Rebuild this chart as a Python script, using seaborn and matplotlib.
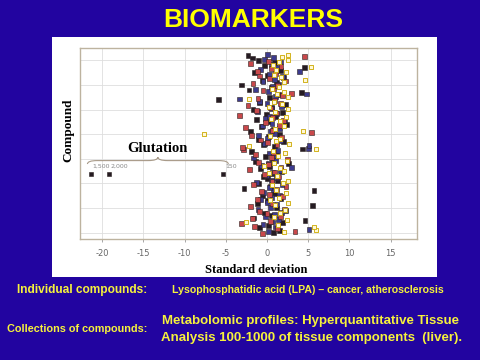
import numpy as np
import pandas as pd
import matplotlib
matplotlib.use("Agg")
import matplotlib.pyplot as plt
from matplotlib.patches import Rectangle, PathPatch
from matplotlib.path import Path
import seaborn as sns

nan = np.nan

# compound index (bottom -> top) and standard deviation of each replicate series
compounds = list(range(73))

dev_black = [0.8, 1.5, -0.9, 0.2, 1.9, 4.6, -1.6, 0.5, -0.3, 2.3,
             1.1, 5.5, -1.2, 0.0, 1.7, -0.6, 0.9, 5.7, -2.8, 0.4,
             -1.0, 1.3, 0.1, -0.5, 0.6, 1.8, -0.8, 0.3, 2.6, -1.4,
             0.7, -0.2, 1.2, -1.9, 4.3, 0.9, -0.4, 2.0, -1.1, 0.2,
             1.5, -2.0, 0.8, -0.7, 2.4, 0.4, -1.3, 1.0, -0.1, 1.9,
             -1.7, 0.6, 2.2, -0.9, -5.9, 0.3, 1.4, 4.2, -2.2, 0.5,
             -3.1, 1.1, -0.6, 2.0, 0.1, -1.5, 1.6, 4.5, -0.3, 0.9,
             -1.0, -1.8, -2.3]

dev_blue = [0.2, 5.1, 1.0, -0.5, 0.7, 1.4, -0.2, 0.9, 1.8, -1.1,
            0.4, 1.2, 0.0, -0.8, 0.6, 1.5, -0.4, 0.8, 0.3, 1.9,
            -1.3, 0.5, 1.1, -0.1, 0.7, 1.6, 3.0, -0.7, 0.2, 1.0,
            -1.6, 0.8, 0.3, 1.3, 5.0, 5.1, -0.3, 1.7, 0.1, -1.0,
            0.9, 0.4, 1.5, -0.6, 0.6, 2.1, -0.2, 0.3, 1.2, -1.2,
            0.5, 1.8, 0.0, -0.9, -3.3, 1.0, 4.8, 0.2, -1.4, 0.7,
            1.4, -0.5, 0.9, 1.9, 0.3, 3.9, -0.8, 1.1, 0.5, 1.6,
            -0.3, 0.8, 0.1]

dev_red = [-0.6, 3.4, 1.3, -1.5, -3.1, 0.4, -1.8, 1.6, 0.0, -0.9,
           2.1, -2.0, 0.7, nan, -1.2, 1.9, 0.3, -0.7, 1.1, 2.3,
           -1.6, 0.6, nan, 1.4, -0.3, 0.9, -2.1, 1.7, 0.2, -1.0,
           2.5, 0.5, -1.4, 0.8, -2.9, -3.0, 1.2, 0.1, -0.8, 1.8,
           -1.9, 5.4, 0.6, -2.6, 1.5, -0.2, 2.0, 0.7, -3.3, 1.1,
           -1.3, 0.4, -2.3, 1.6, 0.9, -1.1, 1.9, 3.0, -0.5, 0.8,
           1.3, -1.7, 2.2, 0.3, -0.9, 1.0, -1.2, 0.5, 1.7, -2.0,
           0.2, nan, 4.5]

dev_yellow = [2.0, 6.0, 5.7, 1.3, -2.5, 2.4, 0.9, nan, 1.6, 2.2,
              nan, 1.0, 2.6, 0.3, 1.5, nan, 2.3, 1.1, nan, 0.6,
              1.9, 2.5, nan, 1.2, 0.2, 2.1, 1.6, -0.4, 0.9, 2.4,
              nan, 1.3, 2.2, 0.7, 6.0, -2.2, 2.7, 1.1, 1.6, 0.4,
              -7.6, 4.4, 1.0, 2.0, nan, 1.6, 0.5, 2.3, nan, 1.0,
              2.6, 0.2, 1.8, 0.8, -2.2, 2.5, 1.2, 2.0, 0.6, 1.4,
              nan, 2.1, 4.6, 1.7, 0.9, 2.3, 1.1, 5.3, 0.7, 1.5,
              2.5, 1.8, 2.5]

# glutation: one compound far out on the left
glut_compound = 24
glut_dev = [-21.4, -19.2, -5.3]
glut_labels = ["1,500", "2,000", "150"]

x_ticks = [-20, -15, -10, -5, 0, 5, 10, 15]
y_grid = [0, 10, 20, 30, 40, 50, 60, 70]

bg = "#2204a0"
yellow = "#ffff00"
text_yellow = "#f6f23c"

# small vertical dodge per series so the replicates of one compound don't sit on one line
dodge = {"black": 0.0, "blue": 0.35, "red": -0.35, "yellow": 0.2}

df = pd.DataFrame({
    "compound": compounds * 3,
    "deviation": dev_black + dev_blue + dev_red,
    "series": ["black"] * 73 + ["blue"] * 73 + ["red"] * 73,
}).dropna()
df["ypos"] = df["compound"] + df["series"].map(dodge)
df_y = pd.DataFrame({"compound": compounds, "deviation": dev_yellow}).dropna()
df_y["ypos"] = df_y["compound"] + dodge["yellow"]
df_g = pd.DataFrame({"compound": [glut_compound] * 3, "deviation": glut_dev})

sns.set_style("white")
plt.rcParams["axes.unicode_minus"] = False

fig = plt.figure(figsize=(4.8, 3.6), dpi=100, facecolor=bg)
fig.add_artist(Rectangle((52 / 480, 1 - 277 / 360), 385 / 480, 240 / 360,
                         transform=fig.transFigure, facecolor="white",
                         edgecolor="none", zorder=-1))
ax = fig.add_axes([80 / 480, 1 - 239 / 360, 337 / 480, 191 / 360])
ax.set_facecolor("white")

palette = {"black": "#251b22", "blue": "#3d3b8e", "red": "#c9484b"}
sns.scatterplot(data=df, x="deviation", y="ypos", hue="series",
                palette=palette, marker="s", s=12, linewidth=0.4,
                edgecolor="#2a2020", legend=False, ax=ax, zorder=3)
sns.scatterplot(data=df_y, x="deviation", y="ypos", marker="s", s=10,
                color="#fff8d8", edgecolor="#cfae10", linewidth=0.65,
                legend=False, ax=ax, zorder=4)
sns.scatterplot(data=df_g, x="deviation", y="compound", marker="s", s=12,
                color="#251b22", edgecolor="#2a2020", linewidth=0.4,
                legend=False, ax=ax, zorder=3)

for xv, lab in zip(glut_dev, glut_labels):
    ax.text(xv + 0.2, glut_compound + 2.0, lab, fontsize=4.5, color="#888888",
            ha="left", va="bottom", family="DejaVu Sans")

# curly brace over the glutation values
x0 = min(glut_dev) - 0.4
x1 = max(glut_dev) + 0.6
xm = (x0 + x1) / 2
yb = glut_compound + 3.9
yl = glut_compound + 5.3
yc = glut_compound + 6.7
verts = [(x0, yb), (x0, yl), (x0 + 1.2, yl), (xm - 1.2, yl), (xm, yl), (xm, yc),
         (xm, yl), (xm + 1.2, yl), (x1 - 1.2, yl), (x1, yl), (x1, yb)]
codes = [Path.MOVETO, Path.CURVE3, Path.CURVE3, Path.LINETO, Path.CURVE3, Path.CURVE3,
         Path.CURVE3, Path.CURVE3, Path.LINETO, Path.CURVE3, Path.CURVE3]
ax.add_patch(PathPatch(Path(verts, codes), facecolor="none", edgecolor="#a89a88",
                       linewidth=0.8, zorder=2))
ax.text(xm, glut_compound + 10.3, "Glutation", ha="center", va="center",
        fontsize=10.5, fontweight="bold", family="Liberation Serif", color="black")

ax.set_xlim(-22.7, 18.2)
ax.set_ylim(-2.56, 75.05)
ax.set_xticks(x_ticks)
ax.set_xticklabels([str(t) for t in x_ticks])
ax.set_yticks(y_grid)
ax.set_yticklabels([])
ax.grid(True, color="#dedede", linewidth=0.6)
ax.set_axisbelow(True)
ax.tick_params(axis="x", colors="#999999", labelcolor="#666666", labelsize=6,
               length=2, width=0.6, pad=5, bottom=True)
ax.tick_params(axis="y", length=0)
for sp in ax.spines.values():
    sp.set_color("#bdb39f")
    sp.set_linewidth(1.0)
ax.set_xlabel("")
ax.set_ylabel("")

fig.text(68 / 480, 1 - 130 / 360, "Compound", rotation=90, ha="center", va="center",
         fontsize=9.5, fontweight="bold", family="Liberation Serif", color="black")
fig.text(256 / 480, 1 - 270 / 360, "Standard deviation", ha="center", va="center",
         fontsize=9, fontweight="bold", family="Liberation Serif", color="black")

fig.text(253 / 480, 1 - 20 / 360, "BIOMARKERS", ha="center", va="center",
         fontsize=19, fontweight="bold", family="Liberation Sans", color=yellow)

fig.text(17 / 480, 1 - 290 / 360, "Individual compounds:", ha="left", va="center",
         fontsize=8.6, fontweight="bold", family="Liberation Sans", color=text_yellow)
fig.text(172 / 480, 1 - 290 / 360, "Lysophosphatidic acid (LPA) \u2013 cancer, atherosclerosis",
         ha="left", va="center", fontsize=7.6, fontweight="bold",
         family="Liberation Sans", color=text_yellow)
fig.text(7 / 480, 1 - 329 / 360, "Collections of compounds:", ha="left", va="center",
         fontsize=7.8, fontweight="bold", family="Liberation Sans", color=text_yellow)
fig.text(311 / 480, 1 - 321 / 360, "Metabolomic profiles: Hyperquantitative Tissue",
         ha="center", va="center", fontsize=9.5, fontweight="bold",
         family="Liberation Sans", color=text_yellow)
fig.text(312 / 480, 1 - 338 / 360, "Analysis 100-1000 of tissue components  (liver).",
         ha="center", va="center", fontsize=9.5, fontweight="bold",
         family="Liberation Sans", color=text_yellow)

fig.savefig("out.png", dpi=100, facecolor=bg)
